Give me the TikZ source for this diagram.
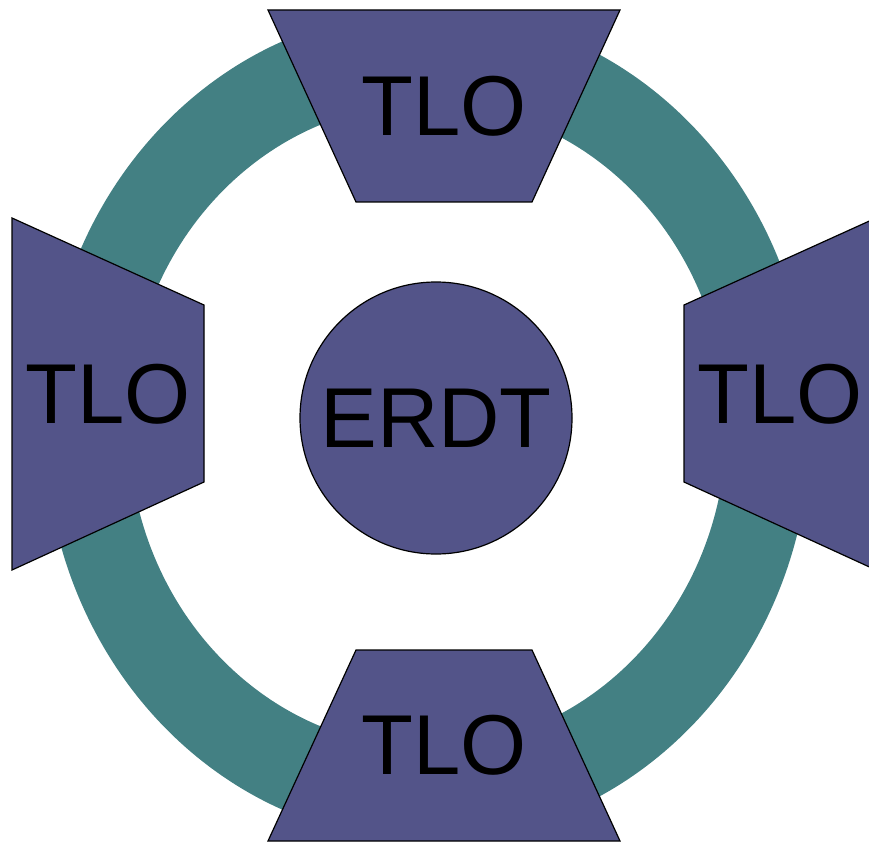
\documentclass[tikz,border=0pt]{standalone}
\usepackage{fontspec}
\setmainfont{Liberation Sans}
\definecolor{ringteal}{RGB}{67,128,131}
\definecolor{tlofill}{RGB}{83,84,137}

\begin{document}
\begin{tikzpicture}[x=1pt, y=-1pt,
		box/.style={fill=tlofill, draw=black, line width=1.2pt, line join=miter},
		label/.style={inner sep=0pt, font=\fontsize{85}{90}\selectfont}]

		\useasboundingbox (0,0) rectangle (869,842);
		\clip (0,0) rectangle (869,842);

		% ring behind everything
		\fill[ringteal, even odd rule] (427.5,425.5) ellipse [x radius=383, y radius=415]
			(427.5,425.5) ellipse [x radius=299, y radius=322];

		\filldraw[box] (268,10) -- (620,10) -- (532,202) -- (356,202) -- cycle;
		\filldraw[box] (356,650) -- (532,650) -- (620,841) -- (268,841) -- cycle;
		\filldraw[box] (12,218) -- (204,305) -- (204,482) -- (12,570) -- cycle;
		\filldraw[box] (876,218) -- (684,305) -- (684,482) -- (876,570) -- cycle;

		\node[label] (tloTop) at (444,106) {TLO};
		\node[label] (tloBottom) at (444,745) {TLO};
		\node[label] (tloLeft) at (108,394) {TLO};
		\node[label] (tloRight) at (780,394) {TLO};

		\filldraw[box] (436,418) circle (136);
		\node[label] (erdt) at (436,418) {ERDT};
	\end{tikzpicture}
\end{document}
